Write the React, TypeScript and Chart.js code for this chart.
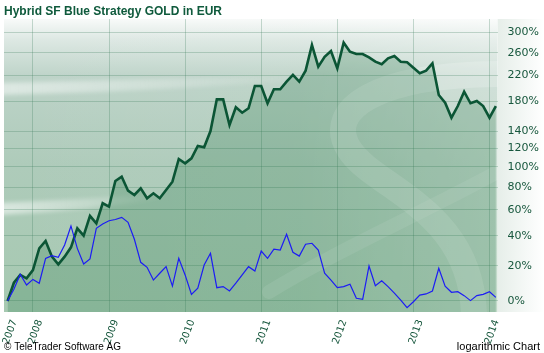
import React, { useEffect, useRef } from 'react';
import { Chart, registerables } from 'chart.js';

Chart.register(...registerables);

// First monthly observation: September 2007
const firstYear = 2007;
const firstMonth = 9;

// Performance in % (monthly)
const strategyValues = [
  0, 9.9, 14.4, 12.4, 17.3, 31.2, 36.3, 25.7, 20.8, 25.7,
  31.9, 45.5, 40.1, 55.1, 49.3, 65.6, 62.7, 85.7, 89.9, 76.7,
  72.8, 78.9, 69.9, 74.3, 69.9, 77.3, 85.1, 108.1, 103.5, 108.8,
  122.5, 121.0, 140.4, 183.1, 183.1, 148, 171.7, 164.2, 170.3, 203.3,
  203.3, 177.4, 198.1, 198.1, 210.1, 221, 210.1, 228.2, 274.7, 235,
  252.7, 263.3, 232.2, 279.2, 262, 257.7, 257.7, 251.6, 243.8, 239.2,
  249.8, 254, 243.8, 242.7, 233.3, 223.8, 228.2, 240.9, 189.5, 178.2,
  157.5, 173.5, 194.5, 177.4, 180.7, 173.5, 157.5, 173.5,
];

const benchmarkValues = [
  0, 6.2, 14.8, 8.6, 11.8, 9.6, 24.6, 26.3, 25.3, 33.5,
  47.3, 31.2, 21.0, 24.2, 45.5, 48.8, 51.3, 52.3, 54.0, 50.1,
  37.5, 22.1, 19.0, 11.4, 15.4, 19.4, 8.0, 24.6, 14.4, 3.5,
  6.8, 20.4, 27.9, 7.1, 7.7, 5.3, 9.6, 14.4, 19.4, 16.7,
  29.4, 24.6, 30.6, 30.1, 41.1, 28.6, 26.1, 34.0, 34.7, 30.1,
  15.4, 11.4, 7.1, 7.7, 9.0, 1.4, 0.9, 19.8, 8.2, 11.0,
  7.7, 4.1, 0.5, -3.4, -0.4, 3.1, 3.7, 5.3, 18.4, 8.0,
  4.6, 4.9, 2.8, 0.2, 2.8, 3.5, 4.9, 1.9,
];

const yTickPercents = [0, 20, 40, 60, 80, 100, 120, 140, 180, 220, 260, 300];
const xTickLabels = ['2007', '2008', '2009', '2010', '2011', '2012', '2013', '2014'];

const titleText = 'Hybrid SF Blue Strategy GOLD in EUR';
const copyrightText = '\u00A9 TeleTrader Software AG';
const scaleNote = 'logarithmic Chart';

const firstT = firstYear + (firstMonth - 1) / 12;
const xTickPositions = xTickLabels.map((l, i) => (i === 0 ? firstT : Number(l)));
const monthT = (i: number) => firstT + i / 12;
const toPoints = (vals: number[]) => vals.map((p, i) => ({ x: monthT(i), y: 1 + p / 100 }));

const bgPlugin = {
  id: 'ttBackground',
  beforeDraw(chart: any) {
    const { ctx, chartArea } = chart;
    const { left, top, right, bottom } = chartArea;
    const w = right - left;
    const h = bottom - top;
    ctx.save();
    // right strip behind labels
    const rs = ctx.createLinearGradient(right, 0, chart.width, 0);
    rs.addColorStop(0, '#e6eee9');
    rs.addColorStop(1, '#ffffff');
    ctx.fillStyle = rs;
    ctx.fillRect(right, top, chart.width - right, h);

    ctx.beginPath();
    ctx.rect(left, top, w, h);
    ctx.clip();
    const g = ctx.createLinearGradient(0, top, 0, bottom);
    g.addColorStop(0, '#f8faf9');
    g.addColorStop(0.07, '#dde8e3');
    g.addColorStop(0.2, '#bdd3c8');
    g.addColorStop(0.5, '#aecbba');
    g.addColorStop(1, '#a6c9b1');
    ctx.fillStyle = g;
    ctx.fillRect(left, top, w, h);
    const hg = ctx.createLinearGradient(left, 0, right, 0);
    hg.addColorStop(0, 'rgba(255,255,255,0)');
    hg.addColorStop(0.6, 'rgba(255,255,255,0.05)');
    hg.addColorStop(1, 'rgba(255,255,255,0.3)');
    ctx.fillStyle = hg;
    ctx.fillRect(left, top, w, h);

    // soft light swoosh bands
    const band = (yc: number, x1: number, a: number) => {
      ctx.save();
      ctx.filter = 'blur(2px)';
      const bg = ctx.createLinearGradient(left, 0, x1, 0);
      bg.addColorStop(0, `rgba(255,255,255,${a})`);
      bg.addColorStop(1, 'rgba(255,255,255,0)');
      ctx.fillStyle = bg;
      ctx.beginPath();
      ctx.moveTo(left - 5, yc - 6);
      ctx.quadraticCurveTo((left + x1) / 2, yc - 10, x1, yc - 16);
      ctx.lineTo(x1, yc - 12);
      ctx.quadraticCurveTo((left + x1) / 2, yc + 2, left - 5, yc + 6);
      ctx.closePath();
      ctx.fill();
      ctx.restore();
    };
    band(top + 70, left + 340, 0.5);
    band(top + 190, left + 170, 0.55);

    // S shape on the right
    ctx.strokeStyle = 'rgba(255,255,255,0.2)';
    ctx.lineCap = 'round';
    ctx.lineWidth = 26;
    ctx.beginPath();
    ctx.moveTo(right + 5, top + 55);
    ctx.bezierCurveTo(right - 120, top + 55, left + 320, top + 90, left + 345, top + 130);
    ctx.bezierCurveTo(left + 370, top + 170, left + 470, top + 190, left + 470, top + 300);
    ctx.stroke();
    ctx.lineWidth = 14;
    ctx.strokeStyle = 'rgba(255,255,255,0.14)';
    ctx.beginPath();
    ctx.moveTo(left + 265, bottom - 20);
    ctx.bezierCurveTo(left + 330, bottom - 60, left + 420, bottom - 100, right, bottom - 140);
    ctx.stroke();
    ctx.restore();
  },
};

const textPlugin = {
  id: 'ttTexts',
  afterDraw(chart: any) {
    const { ctx } = chart;
    ctx.save();
    ctx.fillStyle = '#000000';
    ctx.textBaseline = 'alphabetic';
    ctx.textAlign = 'left';
    ctx.font = '10px "Liberation Sans", Arial, sans-serif';
    ctx.fillText(copyrightText, 4, 350);
    ctx.font = '11px "Liberation Sans", Arial, sans-serif';
    ctx.textAlign = 'right';
    ctx.fillText(scaleNote, 540, 350);
    ctx.restore();
  },
};

export default function App() {
  const ref = useRef<HTMLCanvasElement | null>(null);
  useEffect(() => {
    document.body.style.margin = '0';
    const canvas = ref.current;
    if (!canvas) return;
    const gridColor = 'rgba(60,125,95,0.28)';
    const tickColor = '#17573d';
    const chart = new Chart(canvas, {
      type: 'line',
      data: {
        datasets: [
          {
            label: 'Blue',
            data: toPoints(benchmarkValues),
            borderColor: '#1c1cf5',
            borderWidth: 1.2,
            pointRadius: 0,
            fill: false,
            tension: 0,
            order: 0,
          },
          {
            label: 'Strategy',
            data: toPoints(strategyValues),
            borderColor: '#0b5535',
            borderWidth: 2.6,
            pointRadius: 0,
            fill: 'start',
            backgroundColor: 'rgba(25,110,60,0.22)',
            tension: 0,
            order: 1,
          },
        ],
      },
      options: {
        responsive: false,
        animation: false,
        events: [],
        layout: { padding: { left: 4, right: 0, top: 0, bottom: 0 } },
        plugins: {
          legend: { display: false },
          tooltip: { enabled: false },
          title: {
            display: true,
            text: titleText,
            align: 'start',
            color: '#0f5a3c',
            font: { family: '"Liberation Sans", Arial, sans-serif', size: 12, weight: 'bold', lineHeight: 1.2 },
            padding: { top: 4, bottom: 0.6 },
          },
        },
        scales: {
          x: {
            type: 'linear',
            min: 2007.62,
            max: 2014.105,
            afterBuildTicks: (s: any) => {
              s.ticks = xTickPositions.map((v) => ({ value: v }));
            },
            afterFit: (s: any) => {
              s.height = 41;
              s.paddingLeft = 0;
              s.paddingRight = 0;
            },
            ticks: {
              autoSkip: false,
              minRotation: 70,
              maxRotation: 70,
              padding: 6,
              labelOffset: 7,
              color: tickColor,
              font: { family: '"DejaVu Sans", Verdana, sans-serif', size: 10 },
              callback: (_v: any, i: number) => xTickLabels[i],
            },
            grid: {
              drawTicks: false,
              color: (c: any) => (c.index === 0 ? 'rgba(0,0,0,0)' : gridColor),
            },
            border: { display: false },
          },
          y: {
            type: 'logarithmic',
            position: 'right',
            min: 0.9448,
            max: 4.285,
            afterBuildTicks: (s: any) => {
              s.ticks = yTickPercents.map((p) => ({ value: 1 + p / 100 }));
            },
            afterFit: (s: any) => {
              s.width = 46.5;
            },
            ticks: {
              autoSkip: false,
              padding: 10,
              color: tickColor,
              font: { family: '"DejaVu Sans", Verdana, sans-serif', size: 11 },
              callback: (v: any) => Math.round((Number(v) - 1) * 100) + '%',
            },
            grid: { drawTicks: false, color: gridColor },
            border: { display: false },
          },
        },
      },
      plugins: [bgPlugin, textPlugin],
    } as any);
    return () => chart.destroy();
  }, []);
  return (
    <div style={{ width: 544, height: 353, position: 'relative', background: '#ffffff' }}>
      <canvas ref={ref} width={544} height={353} style={{ display: 'block', width: 544, height: 353 }} />
    </div>
  );
}
